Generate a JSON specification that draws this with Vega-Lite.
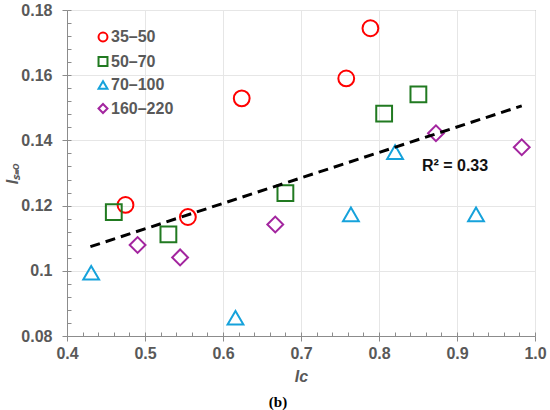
{
  "$schema": "https://vega.github.io/schema/vega-lite/v6.json",
  "width": 468,
  "height": 326,
  "autosize": {"type": "none"},
  "padding": {"left": 67, "top": 10, "right": 15, "bottom": 74},
  "background": "white",
  "config": {
    "view": {"stroke": "#8c8c8c", "strokeWidth": 1},
    "font": "Liberation Sans",
    "axis": {
      "labelFont": "Liberation Sans",
      "labelFontSize": 16,
      "labelFontWeight": "bold",
      "labelColor": "#595959",
      "labelFlush": false,
      "domainColor": "#8c8c8c",
      "tickColor": "#8c8c8c",
      "gridColor": "#e6e6e6",
      "titleColor": "#595959",
      "titleFont": "Liberation Sans",
      "titleFontSize": 16,
      "titleFontWeight": "bold"
    },
    "legend": {
      "orient": "none",
      "legendX": 28,
      "legendY": 19,
      "padding": 0,
      "labelFont": "Liberation Sans",
      "labelFontSize": 16,
      "labelFontWeight": "bold",
      "labelColor": "#595959",
      "symbolSize": 80,
      "symbolStrokeWidth": 2,
      "rowPadding": 6.5,
      "labelOffset": 0
    }
  },
  "title": {
    "text": "(b)",
    "orient": "bottom",
    "font": "Liberation Serif",
    "fontSize": 15,
    "fontWeight": "bold",
    "color": "#000000",
    "offset": 11,
    "dx": -23,
    "anchor": "middle"
  },
  "datasets": {
    "points": [
      {"series": "35–50", "Ic": 0.475, "Iso": 0.1202},
      {"series": "35–50", "Ic": 0.555, "Iso": 0.1165},
      {"series": "35–50", "Ic": 0.624, "Iso": 0.1529},
      {"series": "35–50", "Ic": 0.758, "Iso": 0.159},
      {"series": "35–50", "Ic": 0.789, "Iso": 0.1744},
      {"series": "50–70", "Ic": 0.460, "Iso": 0.118},
      {"series": "50–70", "Ic": 0.530, "Iso": 0.1112},
      {"series": "50–70", "Ic": 0.680, "Iso": 0.1238},
      {"series": "50–70", "Ic": 0.8066, "Iso": 0.1482},
      {"series": "50–70", "Ic": 0.8505, "Iso": 0.1541},
      {"series": "70–100", "Ic": 0.431, "Iso": 0.0994},
      {"series": "70–100", "Ic": 0.616, "Iso": 0.0856},
      {"series": "70–100", "Ic": 0.764, "Iso": 0.1173},
      {"series": "70–100", "Ic": 0.8206, "Iso": 0.1364},
      {"series": "70–100", "Ic": 0.9244, "Iso": 0.1173},
      {"series": "160–220", "Ic": 0.4905, "Iso": 0.1079},
      {"series": "160–220", "Ic": 0.545, "Iso": 0.1041},
      {"series": "160–220", "Ic": 0.667, "Iso": 0.1142},
      {"series": "160–220", "Ic": 0.873, "Iso": 0.1422},
      {"series": "160–220", "Ic": 0.983, "Iso": 0.1379}
    ],
    "trend": [
      {"Ic": 0.43, "Iso": 0.1074},
      {"Ic": 0.983, "Iso": 0.1506}
    ],
    "note": [
      {"Ic": 0.855, "Iso": 0.1322, "label": "R² = 0.33"}
    ]
  },
  "layer": [
    {
      "data": {"name": "points"},
      "mark": {"type": "point", "filled": false, "strokeWidth": 2, "size": 250, "opacity": 1},
      "encoding": {
        "x": {
          "field": "Ic", "type": "quantitative",
          "scale": {"domain": [0.4, 1.0], "nice": false, "zero": false},
          "axis": {
            "orient": "bottom",
            "values": [0.4, 0.5, 0.6, 0.7, 0.8, 0.9, 1.0],
            "format": ".1f",
            "tickSize": 5,
            "labelPadding": 4,
            "grid": true,
            "title": "Ic",
            "titleFontStyle": "italic",
            "titlePadding": 7
          }
        },
        "y": {
          "field": "Iso", "type": "quantitative",
          "scale": {"domain": [0.08, 0.18], "nice": false, "zero": false},
          "axis": {
            "orient": "left",
            "values": [0.08, 0.1, 0.12, 0.14, 0.16, 0.18],
            "format": "~g",
            "tickSize": 5,
            "labelPadding": 10,
            "grid": true,
            "title": "Iₛ₌ₒ",
            "titleFontStyle": "italic",
            "titleX": -47,
            "titleY": 163
          }
        },
        "color": {
          "field": "series", "type": "nominal",
          "scale": {"domain": ["35–50", "50–70", "70–100", "160–220"], "range": ["#FF0000", "#217A21", "#16A2DB", "#A3259F"]},
          "legend": {"title": null}
        },
        "shape": {
          "field": "series", "type": "nominal",
          "scale": {"domain": ["35–50", "50–70", "70–100", "160–220"], "range": ["circle", "square", "triangle-up", "diamond"]},
          "legend": {"title": null}
        }
      }
    },
    {
      "data": {"name": "trend"},
      "mark": {"type": "line", "color": "#000000", "strokeWidth": 3, "strokeDash": [10, 6]},
      "encoding": {
        "x": {
          "field": "Ic", "type": "quantitative",
          "axis": {
            "orient": "bottom",
            "values": [0.4, 0.42, 0.44, 0.46, 0.48, 0.5, 0.52, 0.54, 0.56, 0.58, 0.6, 0.62, 0.64, 0.66, 0.68, 0.7, 0.72, 0.74, 0.76, 0.78, 0.8, 0.82, 0.84, 0.86, 0.88, 0.9, 0.92, 0.94, 0.96, 0.98, 1.0],
            "labels": false, "grid": false, "domain": false, "tickSize": -4, "title": null
          }
        },
        "y": {
          "field": "Iso", "type": "quantitative",
          "axis": {
            "orient": "left",
            "values": [0.08, 0.084, 0.088, 0.092, 0.096, 0.1, 0.104, 0.108, 0.112, 0.116, 0.12, 0.124, 0.128, 0.132, 0.136, 0.14, 0.144, 0.148, 0.152, 0.156, 0.16, 0.164, 0.168, 0.172, 0.176, 0.18],
            "labels": false, "grid": false, "domain": false, "tickSize": -4, "title": null
          }
        }
      }
    },
    {
      "data": {"name": "note"},
      "mark": {"type": "text", "align": "left", "baseline": "middle", "font": "Liberation Sans", "fontSize": 16, "fontWeight": "bold", "color": "#111111"},
      "encoding": {
        "x": {"field": "Ic", "type": "quantitative", "axis": null},
        "y": {"field": "Iso", "type": "quantitative", "axis": null},
        "text": {"field": "label"}
      }
    }
  ],
  "resolve": {"axis": {"x": "independent", "y": "independent"}}
}
